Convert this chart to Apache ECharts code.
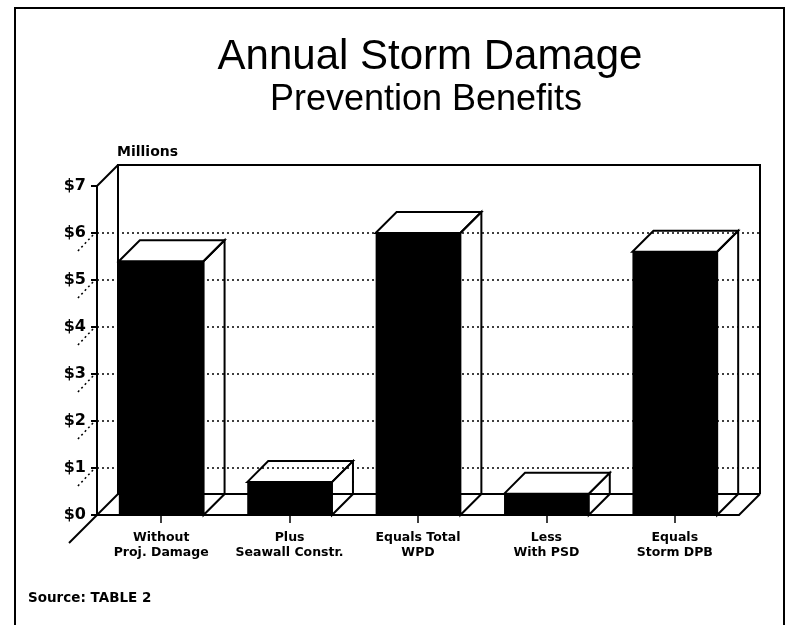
<!DOCTYPE html>
<html>
<head>
<meta charset="utf-8">
<script src="https://cdn.jsdelivr.net/npm/echarts@6/dist/echarts.min.js"></script>
<style>
  html, body { margin: 0; padding: 0; background: #fff; }
  #chart { width: 786px; height: 625px; }
</style>
</head>
<body>
<div id="chart"></div>
<script>
// Annual storm damage prevention benefits, in millions of dollars
const categories = ['Without\nProj. Damage', 'Plus\nSeawall Constr.', 'Equals Total\nWPD', 'Less\nWith PSD', 'Equals\nStorm DPB'];
const benefits = [5.4, 0.7, 6.0, 0.45, 5.6];
const gridValues = [1, 2, 3, 4, 5, 6];
const yMin = 0, yMax = 7, yStep = 1;

const DEPTH = 21;          // pixel offset of the back wall (fake 3D)
const BAR_FRACTION = 0.66; // bar width as share of category band
const INK = '#000';
const LABEL_FONT = '"DejaVu Sans", sans-serif';
const TITLE_FONT = '"Liberation Sans", Arial, sans-serif';

const chart = echarts.init(document.getElementById('chart'), null, { renderer: 'canvas' });

// Back wall, floor edges and left side wall drawn around the front plot rectangle
function renderFrame(params, api) {
  const cs = params.coordSys;
  const x = cs.x, y = cs.y, w = cs.width, h = cs.height, d = DEPTH;
  const line = (x1, y1, x2, y2, extra) => ({
    type: 'line',
    shape: { x1, y1, x2, y2 },
    style: Object.assign({ stroke: INK, lineWidth: 2 }, extra || {})
  });
  const children = [
    // back wall outline
    { type: 'polyline', shape: { points: [[x + d, y + h - d], [x + d, y - d], [x + w + d, y - d], [x + w + d, y + h - d]] },
      style: { stroke: INK, lineWidth: 2, fill: null } },
    line(x + d, y + h - d, x + w + d, y + h - d),
    // depth edges
    line(x, y, x + d, y - d),
    line(x, y + h, x + d, y + h - d),
    line(x + w, y + h, x + w + d, y + h - d),
    // floor edge running forward past the axis
    line(x, y + h, x - 28, y + h + 28)
  ];
  // dotted side-wall marks beside each value label
  gridValues.forEach(v => {
    const p = api.coord([0, v]);
    children.push(line(x - 4, p[1] + 2, x - 20, p[1] + 19, { lineWidth: 1.5, lineDash: [2, 3] }));
  });
  return { type: 'group', children };
}

// Dotted horizontal grid lines spanning front axis to the back wall's right edge
function renderGridLine(params, api) {
  const cs = params.coordSys;
  const p = api.coord([0, api.value(0)]);
  return {
    type: 'line',
    shape: { x1: cs.x, y1: p[1], x2: cs.x + cs.width, y2: p[1] },
    style: { stroke: INK, lineWidth: 1.5, lineDash: [2, 3] }
  };
}

// 3D box: open top and right faces, solid black front face
function renderBar(params, api) {
  const i = api.value(0);
  const v = api.value(1);
  const top = api.coord([i, v]);
  const base = api.coord([i, 0]);
  const bw = api.size([1, 0])[0] * BAR_FRACTION;
  const x0 = top[0] - bw / 2, x1 = top[0] + bw / 2;
  const yt = top[1], yb = base[1], d = DEPTH;
  const outline = { fill: null, stroke: INK, lineWidth: 2, lineJoin: 'miter' };
  return {
    type: 'group',
    children: [
      { type: 'polygon', shape: { points: [[x0, yt], [x0 + d, yt - d], [x1 + d, yt - d], [x1, yt]] }, style: outline },
      { type: 'polygon', shape: { points: [[x1, yt], [x1 + d, yt - d], [x1 + d, yb - d], [x1, yb]] }, style: outline },
      { type: 'rect', shape: { x: x0, y: yt, width: bw, height: yb - yt }, style: { fill: INK } }
    ]
  };
}

const option = {
  animation: false,
  backgroundColor: '#fff',
  grid: [
    { left: 97, right: 47, top: 186, bottom: 110, containLabel: false },
    { left: 97, right: 26, top: 186, bottom: 110, containLabel: false }
  ],
  xAxis: [
    {
      type: 'category', gridIndex: 0, data: categories,
      axisLine: { lineStyle: { color: INK, width: 2 } },
      axisTick: { show: true, alignWithLabel: true, length: 8, lineStyle: { color: INK, width: 1.5 } },
      axisLabel: {
        interval: 0, margin: 15, color: INK,
        fontFamily: LABEL_FONT, fontWeight: 'bold', fontSize: 12.5, lineHeight: 15
      },
      splitLine: { show: false }
    },
    { type: 'value', gridIndex: 1, min: 0, max: 1, show: false }
  ],
  yAxis: [
    {
      type: 'value', gridIndex: 0, min: yMin, max: yMax, interval: yStep,
      axisLine: { show: true, lineStyle: { color: INK, width: 2 } },
      axisTick: { show: true, length: 6, lineStyle: { color: INK, width: 2 } },
      axisLabel: {
        margin: 11, color: INK, fontFamily: LABEL_FONT, fontWeight: 'bold', fontSize: 16,
        formatter: v => '$' + v
      },
      splitLine: { show: false }
    },
    { type: 'value', gridIndex: 1, min: yMin, max: yMax, interval: yStep, show: false }
  ],
  series: [
    {
      type: 'custom', name: 'grid', xAxisIndex: 1, yAxisIndex: 1, z: 1,
      data: gridValues.map(v => [v]), renderItem: renderGridLine, silent: true
    },
    {
      type: 'custom', name: 'frame', xAxisIndex: 0, yAxisIndex: 0, z: 2,
      data: [[0, 0]], renderItem: renderFrame, silent: true
    },
    {
      type: 'custom', name: 'Benefits', xAxisIndex: 0, yAxisIndex: 0, z: 3,
      data: benefits.map((v, i) => [i, v]), renderItem: renderBar,
      encode: { x: 0, y: 1 }
    }
  ],
  graphic: [
    { type: 'rect', shape: { x: 15, y: 8, width: 769, height: 640 }, style: { fill: null, stroke: INK, lineWidth: 2 }, silent: true },
    { type: 'text', x: 430, y: 57, style: { text: 'Annual Storm Damage', font: '42px ' + TITLE_FONT, fill: INK, align: 'center', verticalAlign: 'middle' } },
    { type: 'text', x: 426, y: 100, style: { text: 'Prevention Benefits', font: '36px ' + TITLE_FONT, fill: INK, align: 'center', verticalAlign: 'middle' } },
    { type: 'text', x: 117, y: 152, style: { text: 'Millions', font: 'bold 14px ' + LABEL_FONT, fill: INK, align: 'left', verticalAlign: 'middle' } },
    { type: 'text', x: 28, y: 598, style: { text: 'Source: TABLE 2', font: 'bold 13.5px ' + LABEL_FONT, fill: INK, align: 'left', verticalAlign: 'middle' } }
  ]
};

chart.setOption(option);
</script>
</body>
</html>
